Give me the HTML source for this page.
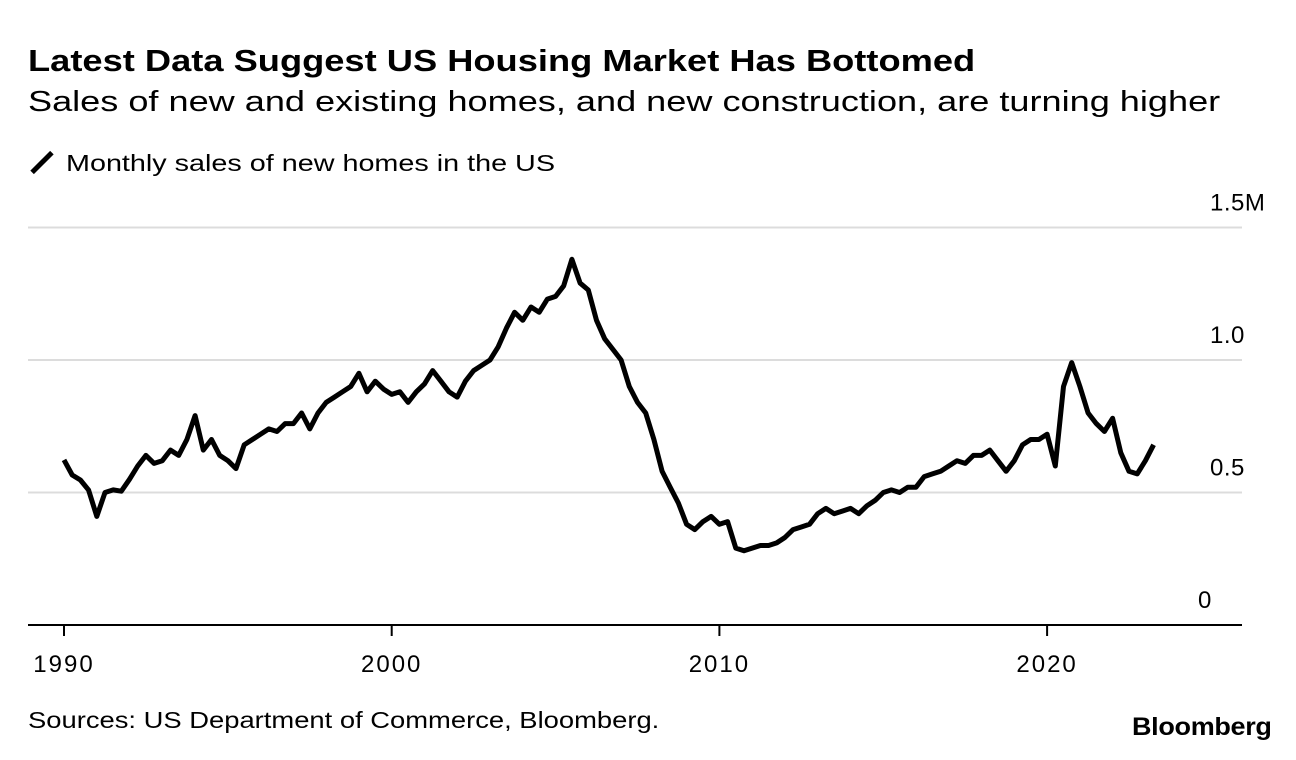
<!DOCTYPE html>
<html><head><meta charset="utf-8"><style>
body{margin:0;background:#fff;font-family:"Liberation Sans",Arial,sans-serif;color:#000;}
#wrap{position:relative;width:1296px;height:760px;overflow:hidden;}
.t{position:absolute;white-space:nowrap;transform-origin:0 0;}
</style></head><body>
<div id="wrap">
<div class="t" style="left:28px;top:43px;font-size:31px;font-weight:bold;transform:scaleX(1.17);">Latest Data Suggest US Housing Market Has Bottomed</div>
<div class="t" style="left:28px;top:86px;font-size:29px;transform:scaleX(1.245);">Sales of new and existing homes, and new construction, are turning higher</div>
<div style="position:absolute;left:28px;top:160px;width:28px;height:5px;background:#000;transform:rotate(-45deg);"></div>
<div class="t" style="left:66px;top:150px;font-size:23px;transform:scaleX(1.25);">Monthly sales of new homes in the US</div>
<div class="t" style="left:28px;top:707px;font-size:23px;transform:scaleX(1.19);">Sources: US Department of Commerce, Bloomberg.</div>
<div class="t" style="left:1132px;top:713px;font-size:25px;font-weight:bold;letter-spacing:-0.3px;transform:scaleX(1.08);">Bloomberg</div>
<svg id="chart" width="1296" height="760" style="position:absolute;left:0;top:0;"></svg>
</div>
<script>
const yTicks=[0,500,1000,1500];
const yTickLabels=["0","0.5","1.0","1.5M"];
const xTicks=[1990,2000,2010,2020];
const startYear=1990;
const sales=[623,566,547,509, 410,500,510,505, 550,600,640,610, 620,660,640,700,
790,660,700,640, 620,590,680,700, 720,740,730,760, 760,800,740,800,
840,860,880,900, 950,880,920,890, 870,880,840,880, 910,960,920,880,
860,920,960,980, 1000,1050,1120,1180, 1150,1200,1180,1230, 1240,1280,1380,1290,
1264,1150,1080,1040, 1000,900,840,800, 700,580,520,460, 380,360,390,410,
380,390,290,280, 290,300,300,310, 330,360,370,380, 420,440,420,430,
440,420,450,470, 500,510,500,520, 520,560,570,580, 600,620,610,640,
640,660,620,580, 620,680,700,700, 720,600,900,990, 900,800,760,730,
780,650,580,570, 620,680];
const svg=document.getElementById('chart');
const NS='http://www.w3.org/2000/svg';
const xScale=yr=>64+(yr-1990)*32.77;
const yScale=v=>625-v*0.265;
for(let i=0;i<yTicks.length;i++){
  const v=yTicks[i];
  if(v>0){
    const l=document.createElementNS(NS,'line');
    
    
    l.setAttribute('x1',28);l.setAttribute('x2',1242);
    l.setAttribute('y1',yScale(v));l.setAttribute('y2',yScale(v));
    l.setAttribute('stroke','#dcdcdc');l.setAttribute('stroke-width',2);
    svg.appendChild(l);
  }
  const t=document.createElementNS(NS,'text');
  
  
  t.setAttribute('x',v===0?1198:1210);t.setAttribute('y',yScale(v)-17);
  t.setAttribute('font-size','24');t.setAttribute('letter-spacing','0.5');
  t.setAttribute('font-family','Liberation Sans, Arial, sans-serif');
  t.textContent=yTickLabels[i];
  svg.appendChild(t);
}
const ax=document.createElementNS(NS,'line');


ax.setAttribute('x1',28);ax.setAttribute('x2',1242);ax.setAttribute('y1',625);ax.setAttribute('y2',625);
ax.setAttribute('stroke','#000');ax.setAttribute('stroke-width',2);
svg.appendChild(ax);
for(const yr of xTicks){
  const tk=document.createElementNS(NS,'line');
  
  
  tk.setAttribute('x1',xScale(yr));tk.setAttribute('x2',xScale(yr));
  tk.setAttribute('y1',625);tk.setAttribute('y2',636);
  tk.setAttribute('stroke','#000');tk.setAttribute('stroke-width',2);
  svg.appendChild(tk);
  const t=document.createElementNS(NS,'text');
  
  
  t.setAttribute('x',xScale(yr));t.setAttribute('y',672);
  t.setAttribute('text-anchor','middle');t.setAttribute('font-size','24');t.setAttribute('letter-spacing','2');
  t.setAttribute('font-family','Liberation Sans, Arial, sans-serif');
  t.textContent=yr;
  svg.appendChild(t);
}
let d='';
sales.forEach((v,i)=>{d+=(i?'L':'M')+xScale(startYear+i*0.25).toFixed(1)+','+yScale(v).toFixed(1);});
const p=document.createElementNS(NS,'path');


p.setAttribute('d',d);p.setAttribute('fill','none');p.setAttribute('stroke','#000');
p.setAttribute('stroke-width',5);p.setAttribute('stroke-linejoin','round');
svg.appendChild(p);
</script>
</body></html>
